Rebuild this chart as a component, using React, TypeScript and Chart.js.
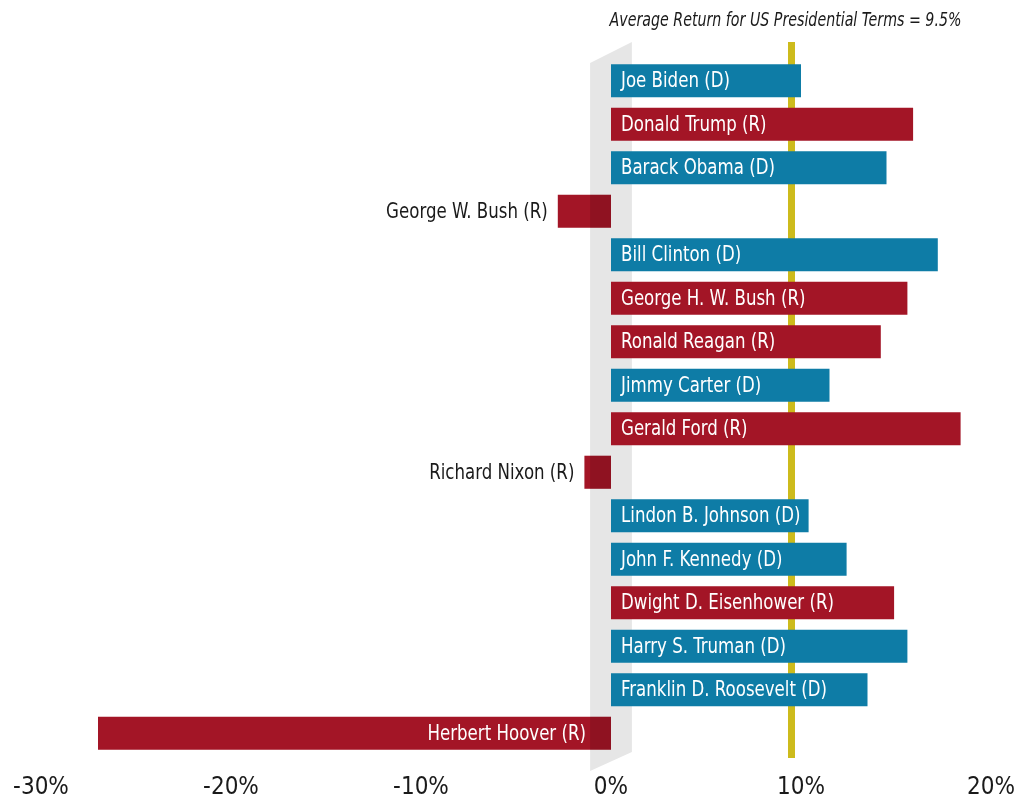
import React, { useEffect, useRef } from "react";
import { Chart, registerables } from "chart.js";

Chart.register(...registerables);

const presidents = [
  "Joe Biden",
  "Donald Trump",
  "Barack Obama",
  "George W. Bush",
  "Bill Clinton",
  "George H. W. Bush",
  "Ronald Reagan",
  "Jimmy Carter",
  "Gerald Ford",
  "Richard Nixon",
  "Lindon B. Johnson",
  "John F. Kennedy",
  "Dwight D. Eisenhower",
  "Harry S. Truman",
  "Franklin D. Roosevelt",
  "Herbert Hoover",
];
const parties = ["D", "R", "D", "R", "D", "R", "R", "D", "R", "R", "D", "D", "R", "D", "D", "R"];
const returns = [10.0, 15.9, 14.5, -2.8, 17.2, 15.6, 14.2, 11.5, 18.4, -1.4, 10.4, 12.4, 14.9, 15.6, 13.5, -27.0];
const xTicks = [-30, -20, -10, 0, 10, 20];
const averageReturn = 9.5;
const averageLabel = "Average Return for US Presidential Terms = 9.5%";

const BLUE = "#0e7ca6";
const RED = "#a31526";
const FONT = "'Liberation Sans Narrow', 'DejaVu Sans Condensed', 'Arial Narrow', sans-serif";
const SQUEEZE = 0.84;

function drawText(ctx: any, text: string, x: number, y: number, align: string, k: number) {
  ctx.save();
  ctx.translate(x, y);
  ctx.scale(k, 1);
  ctx.textAlign = align;
  ctx.fillText(text, 0, 0);
  ctx.restore();
}

const decorPlugin = {
  id: "decor",
  beforeDatasetsDraw(chart: any) {
    const { ctx, chartArea, scales } = chart;
    const x = scales.x;
    const xl = x.getPixelForValue(-1.1);
    const xr = x.getPixelForValue(1.1);
    const t = chartArea.top;
    const b = chartArea.bottom;
    ctx.save();
    ctx.fillStyle = "#e6e6e6";
    ctx.beginPath();
    ctx.moveTo(xl, t + 4);
    ctx.lineTo(xr, t - 17);
    ctx.lineTo(xr, b - 3);
    ctx.lineTo(xl, b + 16);
    ctx.closePath();
    ctx.fill();
    // average line
    const xa = x.getPixelForValue(averageReturn);
    ctx.fillStyle = "#cdbb1c";
    ctx.fillRect(xa - 3.5, t - 17, 7, b - t + 20);
    // title
    ctx.fillStyle = "#1a1a1a";
    ctx.font = "italic 20px " + FONT;
    ctx.textBaseline = "middle";
    drawText(ctx, averageLabel, xa - 6, 21, "center", 0.79);
    ctx.restore();
  },
  afterDatasetsDraw(chart: any) {
    const { ctx, scales } = chart;
    const meta = chart.getDatasetMeta(0);
    const x = scales.x;
    const xl = x.getPixelForValue(-1.1);
    ctx.save();
    ctx.font = "22px " + FONT;
    ctx.textBaseline = "middle";
    meta.data.forEach((el: any, i: number) => {
      const v = returns[i];
      const label = presidents[i] + " (" + parties[i] + ")";
      const p = el.getProps(["x", "y", "base", "height"], true);
      if (v < 0) {
        const left = Math.max(p.x, xl);
        ctx.fillStyle = "rgba(0,0,0,0.12)";
        ctx.fillRect(left, p.y - p.height / 2, p.base - left, p.height);
        const w = ctx.measureText(label).width * SQUEEZE;
        if (p.base - p.x > w + 50) {
          ctx.fillStyle = "#ffffff";
          drawText(ctx, label, p.base - 25, p.y + 1, "right", SQUEEZE);
        } else {
          ctx.fillStyle = "#1a1a1a";
          drawText(ctx, label, p.x - 10, p.y + 1, "right", SQUEEZE);
        }
      } else {
        ctx.fillStyle = "#ffffff";
        drawText(ctx, label, p.base + 10, p.y + 1, "left", SQUEEZE);
      }
    });
    ctx.restore();
  },
};

export default function App() {
  const ref = useRef<HTMLCanvasElement | null>(null);
  useEffect(() => {
    if (!ref.current) return;
    const chart = new Chart(ref.current, {
      type: "bar",
      data: {
        labels: presidents,
        datasets: [
          {
            data: returns,
            backgroundColor: parties.map((p) => (p === "D" ? BLUE : RED)),
            borderWidth: 0,
            barPercentage: 0.76,
            categoryPercentage: 1,
          },
        ],
      },
      options: {
        indexAxis: "y",
        animation: false,
        responsive: false,
        maintainAspectRatio: false,
        layout: { padding: { left: 41, right: 33, top: 59, bottom: 0 } },
        plugins: { legend: { display: false }, tooltip: { enabled: false } },
        scales: {
          y: { display: false },
          x: {
            min: -30,
            max: 20,
            afterBuildTicks: (scale: any) => {
              scale.ticks = xTicks.map((v) => ({ value: v }));
            },
            afterFit: (scale: any) => {
              scale.height = 53;
              scale.paddingLeft = 0;
              scale.paddingRight = 0;
            },
            grid: { display: false, drawTicks: false },
            border: { display: false },
            ticks: {
              padding: 18,
              color: "#1a1a1a",
              font: { family: FONT, size: 24 },
              maxRotation: 0,
              callback: (v: any) => v + "%",
            },
          },
        },
      },
      plugins: [decorPlugin],
    });
    return () => chart.destroy();
  }, []);
  return (
    <div style={{ position: "absolute", left: 0, top: 0, width: 1024, height: 808, background: "#fff" }}>
      <canvas ref={ref} width={1024} height={808} style={{ width: 1024, height: 808 }} />
    </div>
  );
}
